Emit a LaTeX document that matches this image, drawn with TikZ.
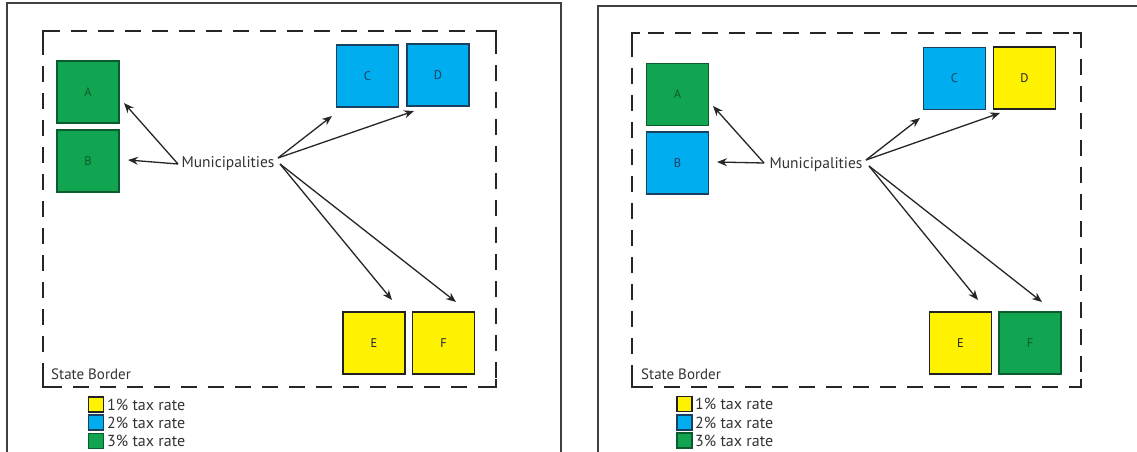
\documentclass[tikz,border=0pt]{standalone}
\usepackage{fontspec}
\setmainfont{PT Sans}
\usetikzlibrary{arrows.meta}

\definecolor{gfill}{HTML}{12A551}
\definecolor{gline}{HTML}{0C5B2E}
\definecolor{bfill}{HTML}{00AEEF}
\definecolor{bline}{HTML}{1B3F5E}
\definecolor{yfill}{HTML}{FFF200}
\definecolor{yline}{HTML}{222222}
\definecolor{ink}{HTML}{333333}

\tikzset{
  muni/.style={rectangle, minimum width=62pt, minimum height=62pt, line width=1.7pt,
    font=\fontsize{12.5}{14}\selectfont},
  rate1/.style={muni, fill=yfill, draw=yline, text=yline},
  rate2/.style={muni, fill=bfill, draw=bline, text=bline},
  rate3/.style={muni, fill=gfill, draw=gline, text=gline},
  swatch/.style={rectangle, minimum width=15pt, minimum height=15pt, line width=1.2pt},
  swatch1/.style={swatch, fill=yfill, draw=yline},
  swatch2/.style={swatch, fill=bfill, draw=bline},
  swatch3/.style={swatch, fill=gfill, draw=gline},
  legendtext/.style={anchor=west, inner sep=0pt, text=ink, font=\fontsize{16}{17}\selectfont},
  hub/.style={inner sep=3pt, text=ink, font=\fontsize{15.5}{17}\selectfont},
  borderlabel/.style={anchor=west, inner sep=0pt, text=ink, font=\fontsize{15}{17}\selectfont},
  link/.style={draw=black!85, line width=1.3pt, -{Stealth[length=10pt,width=8pt]}},
  stateline/.style={draw=black!85, line width=1.8pt, dash pattern=on 16pt off 11pt, dash phase=-8pt},
  corner/.style={draw=black!85, line width=1.8pt},
  frame/.style={draw=black!75, line width=1.5pt}
}

\begin{document}
\begin{tikzpicture}[x=1pt, y=-1pt]
\useasboundingbox (0,0) rectangle (1137,452);
\fill[white] (0,0) rectangle (1137,452);

% ---------- left map ----------
\draw[frame] (7,452) -- (7,3) -- (561,3) -- (561,452);
\draw[stateline] (43,31) rectangle (496,387);
\draw[corner] (43,39) -- (43,31) -- (51,31);
\draw[corner] (488,31) -- (496,31) -- (496,39);
\draw[corner] (43,379) -- (43,387) -- (51,387);
\draw[corner] (488,387) -- (496,387) -- (496,379);
\node[borderlabel] (lborder) at (51,374) {State Border};

\node[rate3] (lA) at (88,92) {A};
\node[rate3] (lB) at (88,161) {B};
\node[rate2] (lC) at (367.5,76) {C};
\node[rate2] (lD) at (438,75) {D};
\node[rate1] (lE) at (374,343) {E};
\node[rate1] (lF) at (443.5,343) {F};

\node[hub] (lmun) at (228,164) {Municipalities};
\coordinate (lmW) at (178,164);
\coordinate (lmE1) at (278,158);
\coordinate (lmE2) at (280,164);
\coordinate (ltA) at (124,103);
\coordinate (ltB) at (128,160);
\coordinate (ltC) at (332,116);
\coordinate (ltD) at (414,111);
\coordinate (ltE) at (392,300);
\coordinate (ltF) at (456,302);
\draw[link] (lmW) -- (ltA);
\draw[link] (lmW) -- (ltB);
\draw[link] (lmE1) -- (ltC);
\draw[link] (lmE1) -- (ltD);
\draw[link] (lmE2) -- (ltE);
\draw[link] (lmE2) -- (ltF);

\node[swatch1] (lk1) at (96,404.5) {};
\node[swatch2] (lk2) at (96,422.5) {};
\node[swatch3] (lk3) at (96,441) {};
\node[legendtext] at (107,404.5) {1\% tax rate};
\node[legendtext] at (107,422.5) {2\% tax rate};
\node[legendtext] at (107,441) {3\% tax rate};

% ---------- right map ----------
\draw[frame] (598,452) -- (598,6) -- (1137,6);
\draw[stateline] (632,33) rectangle (1081,387);
\draw[corner] (632,41) -- (632,33) -- (640,33);
\draw[corner] (1073,33) -- (1081,33) -- (1081,41);
\draw[corner] (632,379) -- (632,387) -- (640,387);
\draw[corner] (1073,387) -- (1081,387) -- (1081,379);
\node[borderlabel] (rborder) at (641,374) {State Border};

\node[rate3] (rA) at (677.5,94.5) {A};
\node[rate2] (rB) at (677.5,163) {B};
\node[rate2] (rC) at (954.5,78.5) {C};
\node[rate1] (rD) at (1024.5,78) {D};
\node[rate1] (rE) at (960.5,343) {E};
\node[rate3] (rF) at (1030,343) {F};

\node[hub] (rmun) at (816,165) {Municipalities};
\coordinate (rmW) at (764,163);
\coordinate (rmE1) at (866,160);
\coordinate (rmE2) at (869,166);
\coordinate (rtA) at (713,106);
\coordinate (rtB) at (717,162);
\coordinate (rtC) at (920,118);
\coordinate (rtD) at (1000,113);
\coordinate (rtE) at (978,300);
\coordinate (rtF) at (1042,302);
\draw[link] (rmW) -- (rtA);
\draw[link] (rmW) -- (rtB);
\draw[link] (rmE1) -- (rtC);
\draw[link] (rmE1) -- (rtD);
\draw[link] (rmE2) -- (rtE);
\draw[link] (rmE2) -- (rtF);

\node[swatch1] (rk1) at (684.5,404) {};
\node[swatch2] (rk2) at (684.5,422.5) {};
\node[swatch3] (rk3) at (684.5,440.5) {};
\node[legendtext] at (695,404) {1\% tax rate};
\node[legendtext] at (695,422.5) {2\% tax rate};
\node[legendtext] at (695,440.5) {3\% tax rate};
\end{tikzpicture}
\end{document}
